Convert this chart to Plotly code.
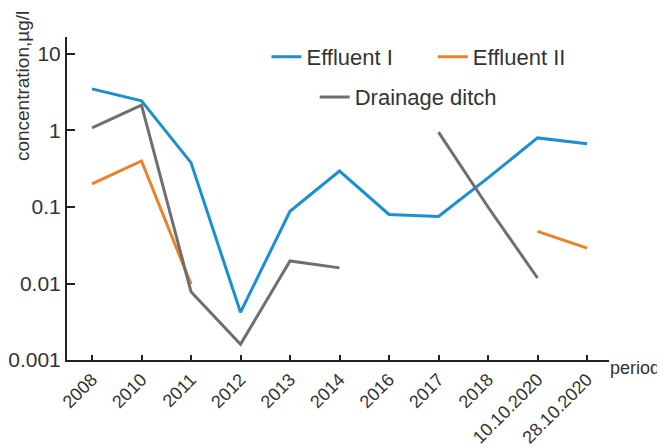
import plotly.graph_objects as go

periods = ["2008", "2010", "2011", "2012", "2013", "2014", "2016", "2017", "2018",
           "10.10.2020", "28.10.2020"]
effluent_1 = [3.5, 2.45, 0.38, 0.0042, 0.088, 0.295, 0.08, 0.075, 0.24, 0.8, 0.67]
effluent_2 = [0.2, 0.4, 0.0098, None, None, None, None, None, None, 0.048, 0.029]
drainage = [1.08, 2.15, 0.0078, 0.0016, 0.0197, 0.016, None, 0.95, 0.1, 0.0118, None]

y_tickvals = [0.001, 0.01, 0.1, 1, 10]
y_ticktext = ["0.001", "0.01", "0.1", "1", "10"]

BLUE = "#1b8fcf"
ORANGE = "#e8832a"
GRAY = "#6f6f6f"
FONT = "Liberation Sans, Arial, sans-serif"

fig = go.Figure()
fig.add_trace(go.Scatter(x=periods, y=effluent_1, mode="lines", name="Effluent I",
                         line=dict(color=BLUE, width=3), legend="legend"))
fig.add_trace(go.Scatter(x=periods, y=effluent_2, mode="lines", name="Effluent II",
                         line=dict(color=ORANGE, width=3), legend="legend2"))
fig.add_trace(go.Scatter(x=periods, y=drainage, mode="lines", name="Drainage ditch",
                         line=dict(color=GRAY, width=3), legend="legend3"))

legend_common = dict(font=dict(family=FONT, size=22, color="#333333"),
                     bgcolor="rgba(0,0,0,0)", borderwidth=0,
                     xanchor="left", yanchor="middle", orientation="h")

# page body has an 8px margin, so the figure is 8px smaller than the window
fig.update_layout(
    width=657, height=440,
    margin=dict(l=59, r=56, t=29, b=88, autoexpand=False),
    paper_bgcolor="white", plot_bgcolor="white",
    font=dict(family=FONT, color="#333333"),
    showlegend=True,
    legend=dict(x=0.368, y=0.938, **legend_common),
    legend2=dict(x=0.675, y=0.938, **legend_common),
    legend3=dict(x=0.457, y=0.814, **legend_common),
    xaxis=dict(
        type="category", range=[-0.505, 10.444], automargin=False,
        showline=True, linecolor="#222222", linewidth=2,
        ticks="inside", ticklen=5, tickwidth=2, tickcolor="#222222",
        tickangle=-45, tickfont=dict(family=FONT, size=18, color="#333333"),
        showgrid=False, zeroline=False,
    ),
    yaxis=dict(
        type="log", range=[-3, 1.222], automargin=False,
        showline=True, linecolor="#222222", linewidth=2,
        ticks="inside", ticklen=8, tickwidth=2, tickcolor="#222222",
        tickvals=y_tickvals, ticktext=y_ticktext,
        tickfont=dict(family=FONT, size=21, color="#333333"),
        showgrid=False, zeroline=False,
    ),
    annotations=[
        dict(text="concentration,µg/l", xref="paper", yref="paper",
             x=-0.083, y=0.848, xanchor="center", yanchor="middle",
             textangle=-90, showarrow=False,
             font=dict(family=FONT, size=19, color="#333333")),
        dict(text="period", xref="paper", yref="paper",
             x=0.999, y=-0.025, xanchor="left", yanchor="middle",
             showarrow=False,
             font=dict(family=FONT, size=18, color="#333333")),
    ],
)

fig.write_html("out.html")
